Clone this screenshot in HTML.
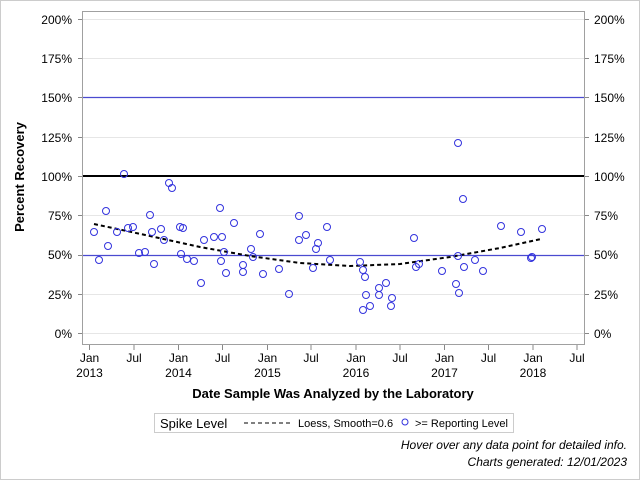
<!DOCTYPE html>
<html><head><style>body{margin:0;background:#fff}svg{display:block}</style></head><body>
<svg width="640" height="480" xmlns="http://www.w3.org/2000/svg" font-family="Liberation Sans, sans-serif">
<rect x="0.5" y="0.5" width="639" height="479" fill="#fff" stroke="#ccc"/>
<rect x="82.5" y="11.5" width="502" height="333" fill="#fff" stroke="#a0a0a0"/>
<g stroke="#e6e6e6" stroke-width="1">
<line x1="83" x2="584" y1="333.5" y2="333.5"/><line x1="83" x2="584" y1="294.5" y2="294.5"/>
<line x1="83" x2="584" y1="215.5" y2="215.5"/><line x1="83" x2="584" y1="137.5" y2="137.5"/>
<line x1="83" x2="584" y1="58.5" y2="58.5"/><line x1="83" x2="584" y1="19.5" y2="19.5"/>
</g>
<line x1="83" x2="584" y1="255.5" y2="255.5" stroke="#4a4ad0" stroke-width="1.3"/>
<line x1="83" x2="584" y1="97.5" y2="97.5" stroke="#4a4ad0" stroke-width="1.3"/>
<line x1="83" x2="584" y1="176" y2="176" stroke="#000" stroke-width="2"/>
<g font-size="12" fill="#000">
<g text-anchor="end">
<text x="72" y="338">0%</text><text x="72" y="299">25%</text><text x="72" y="259">50%</text><text x="72" y="220">75%</text><text x="72" y="181">100%</text><text x="72" y="142">125%</text><text x="72" y="102">150%</text><text x="72" y="63">175%</text><text x="72" y="24">200%</text>
</g>
<text x="594" y="338">0%</text><text x="594" y="299">25%</text><text x="594" y="259">50%</text><text x="594" y="220">75%</text><text x="594" y="181">100%</text><text x="594" y="142">125%</text><text x="594" y="102">150%</text><text x="594" y="63">175%</text><text x="594" y="24">200%</text>
</g>
<g stroke="#888">
<line x1="78" x2="82" y1="333.5" y2="333.5"/><line x1="78" x2="82" y1="294.5" y2="294.5"/><line x1="78" x2="82" y1="255.5" y2="255.5"/><line x1="78" x2="82" y1="215.5" y2="215.5"/><line x1="78" x2="82" y1="176.5" y2="176.5"/><line x1="78" x2="82" y1="137.5" y2="137.5"/><line x1="78" x2="82" y1="97.5" y2="97.5"/><line x1="78" x2="82" y1="58.5" y2="58.5"/><line x1="78" x2="82" y1="19.5" y2="19.5"/>
<line x1="585" x2="589" y1="333.5" y2="333.5"/><line x1="585" x2="589" y1="294.5" y2="294.5"/><line x1="585" x2="589" y1="255.5" y2="255.5"/><line x1="585" x2="589" y1="215.5" y2="215.5"/><line x1="585" x2="589" y1="176.5" y2="176.5"/><line x1="585" x2="589" y1="137.5" y2="137.5"/><line x1="585" x2="589" y1="97.5" y2="97.5"/><line x1="585" x2="589" y1="58.5" y2="58.5"/><line x1="585" x2="589" y1="19.5" y2="19.5"/>
<line x1="89.5" x2="89.5" y1="345" y2="350"/><line x1="134" x2="134" y1="345" y2="350"/><line x1="178.5" x2="178.5" y1="345" y2="350"/><line x1="222.5" x2="222.5" y1="345" y2="350"/><line x1="267.5" x2="267.5" y1="345" y2="350"/><line x1="311" x2="311" y1="345" y2="350"/><line x1="356" x2="356" y1="345" y2="350"/><line x1="400" x2="400" y1="345" y2="350"/><line x1="444.5" x2="444.5" y1="345" y2="350"/><line x1="488.5" x2="488.5" y1="345" y2="350"/><line x1="533" x2="533" y1="345" y2="350"/><line x1="577" x2="577" y1="345" y2="350"/>
</g>
<g font-size="12" text-anchor="middle">
<text x="89.5" y="362">Jan</text><text x="89.5" y="377">2013</text><text x="134" y="362">Jul</text>
<text x="178.5" y="362">Jan</text><text x="178.5" y="377">2014</text><text x="222.5" y="362">Jul</text>
<text x="267.5" y="362">Jan</text><text x="267.5" y="377">2015</text><text x="311" y="362">Jul</text>
<text x="356" y="362">Jan</text><text x="356" y="377">2016</text><text x="400" y="362">Jul</text>
<text x="444.5" y="362">Jan</text><text x="444.5" y="377">2017</text><text x="488.5" y="362">Jul</text>
<text x="533" y="362">Jan</text><text x="533" y="377">2018</text><text x="577" y="362">Jul</text>
</g>
<text x="333" y="398" font-size="13" font-weight="bold" text-anchor="middle">Date Sample Was Analyzed by the Laboratory</text>
<text transform="translate(24,177) rotate(-90)" font-size="13" font-weight="bold" text-anchor="middle">Percent Recovery</text>
<polyline fill="none" stroke="#000" stroke-width="2" stroke-dasharray="4,3" points="94,224 150,236 200,247 250,256 300,263 350,266 400,264 450,257 500,248 541,239"/>
<g fill="none" stroke="#3333dd" stroke-width="1">
<circle cx="94" cy="232" r="3.5"/><circle cx="99" cy="260" r="3.5"/><circle cx="106" cy="211" r="3.5"/><circle cx="108" cy="246" r="3.5"/><circle cx="117" cy="232" r="3.5"/><circle cx="124" cy="174" r="3.5"/><circle cx="128" cy="228" r="3.5"/><circle cx="133" cy="227" r="3.5"/><circle cx="139" cy="253" r="3.5"/><circle cx="145" cy="252" r="3.5"/><circle cx="150" cy="215" r="3.5"/><circle cx="152" cy="232" r="3.5"/><circle cx="154" cy="264" r="3.5"/><circle cx="161" cy="229" r="3.5"/><circle cx="164" cy="240" r="3.5"/><circle cx="169" cy="183" r="3.5"/><circle cx="172" cy="188" r="3.5"/><circle cx="180" cy="227" r="3.5"/><circle cx="181" cy="254" r="3.5"/><circle cx="183" cy="228" r="3.5"/><circle cx="187" cy="259" r="3.5"/><circle cx="194" cy="261" r="3.5"/><circle cx="201" cy="283" r="3.5"/><circle cx="204" cy="240" r="3.5"/><circle cx="214" cy="237" r="3.5"/><circle cx="220" cy="208" r="3.5"/><circle cx="222" cy="237" r="3.5"/><circle cx="221" cy="261" r="3.5"/><circle cx="224" cy="252" r="3.5"/><circle cx="226" cy="273" r="3.5"/><circle cx="234" cy="223" r="3.5"/><circle cx="243" cy="272" r="3.5"/><circle cx="243" cy="265" r="3.5"/><circle cx="251" cy="249" r="3.5"/><circle cx="253" cy="257" r="3.5"/><circle cx="260" cy="234" r="3.5"/><circle cx="263" cy="274" r="3.5"/><circle cx="279" cy="269" r="3.5"/><circle cx="289" cy="294" r="3.5"/><circle cx="299" cy="240" r="3.5"/><circle cx="299" cy="216" r="3.5"/><circle cx="306" cy="235" r="3.5"/><circle cx="313" cy="268" r="3.5"/><circle cx="316" cy="249" r="3.5"/><circle cx="318" cy="243" r="3.5"/><circle cx="327" cy="227" r="3.5"/><circle cx="330" cy="260" r="3.5"/><circle cx="360" cy="262" r="3.5"/><circle cx="363" cy="310" r="3.5"/><circle cx="363" cy="270" r="3.5"/><circle cx="365" cy="277" r="3.5"/><circle cx="366" cy="295" r="3.5"/><circle cx="370" cy="306" r="3.5"/><circle cx="379" cy="295" r="3.5"/><circle cx="379" cy="288" r="3.5"/><circle cx="386" cy="283" r="3.5"/><circle cx="391" cy="306" r="3.5"/><circle cx="392" cy="298" r="3.5"/><circle cx="414" cy="238" r="3.5"/><circle cx="416" cy="267" r="3.5"/><circle cx="419" cy="264" r="3.5"/><circle cx="442" cy="271" r="3.5"/><circle cx="456" cy="284" r="3.5"/><circle cx="458" cy="143" r="3.5"/><circle cx="458" cy="256" r="3.5"/><circle cx="459" cy="293" r="3.5"/><circle cx="463" cy="199" r="3.5"/><circle cx="464" cy="267" r="3.5"/><circle cx="475" cy="260" r="3.5"/><circle cx="483" cy="271" r="3.5"/><circle cx="501" cy="226" r="3.5"/><circle cx="521" cy="232" r="3.5"/><circle cx="531" cy="258" r="3.5"/><circle cx="532" cy="257" r="3.5"/><circle cx="542" cy="229" r="3.5"/>
</g>
<rect x="154.5" y="413.5" width="359" height="19" fill="#fff" stroke="#ccc"/>
<text x="160" y="428" font-size="13">Spike Level</text>
<line x1="244" x2="290" y1="423" y2="423" stroke="#000" stroke-dasharray="4,3"/>
<text x="298" y="427" font-size="11">Loess, Smooth=0.6</text>
<circle cx="405" cy="422" r="3" fill="none" stroke="#3333dd"/>
<text x="415" y="427" font-size="11">&gt;= Reporting Level</text>
<text x="627" y="449" font-size="12" font-style="italic" text-anchor="end">Hover over any data point for detailed info.</text>
<text x="627" y="466" font-size="12" font-style="italic" text-anchor="end">Charts generated: 12/01/2023</text>
</svg>
</body></html>
